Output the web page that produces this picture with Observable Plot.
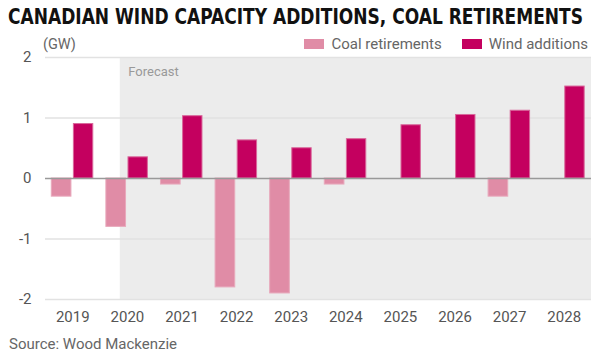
<!DOCTYPE html>
<html><head><meta charset="utf-8">
<script src="https://cdn.jsdelivr.net/npm/d3@7"></script>
<script src="https://cdn.jsdelivr.net/npm/@observablehq/plot@0.6"></script>
<style>
body{margin:0;background:#fff;width:608px;height:360px;position:relative;overflow:hidden;font-family:Roboto,"Noto Sans",sans-serif;}
#title{position:absolute;left:8px;top:4px;font-family:"DejaVu Sans Condensed","DejaVu Sans",sans-serif;font-stretch:condensed;font-weight:bold;font-size:22px;line-height:26px;color:#111;white-space:nowrap;transform-origin:0 0;}
#unit{position:absolute;left:43px;top:36px;font-size:14.5px;color:#666;}
#legend{position:absolute;left:312px;top:35px;font-size:15px;color:#666;display:flex;align-items:center;white-space:nowrap;}
#legend .item{display:flex;align-items:center;}
#legend span.sw{display:inline-block;width:20px;height:10px;margin-right:7px;}
#source{position:absolute;left:9px;top:335px;font-size:15px;color:#666;}
#chart{position:absolute;left:0;top:0;}
</style></head>
<body>
<div id="chart"></div>
<div id="title">CANADIAN WIND CAPACITY ADDITIONS, COAL RETIREMENTS</div>
<div id="unit">(GW)</div>
<div id="legend"><div class="item" id="lg1"><span class="sw" style="background:#e08ca6"></span>Coal retirements</div><div class="item" id="lg2" style="margin-left:20px"><span class="sw" style="background:#c4005f"></span>Wind additions</div></div>
<div id="source">Source: Wood Mackenzie</div>
<script>
const years = [2019,2020,2021,2022,2023,2024,2025,2026,2027,2028];
const coal = [-0.30,-0.80,-0.10,-1.80,-1.90,-0.10,0,0,-0.30,0];
const wind = [0.90,0.35,1.03,0.63,0.50,0.65,0.88,1.05,1.12,1.52];
const yTicks = [-2,-1,0,1,2];
const forecastStart = 2019.87;

const coalRows = years.map((y,i)=>({year:y, v:coal[i]})).filter(d=>d.v!==0);
const windRows = years.map((y,i)=>({year:y, v:wind[i]}));

const plot = Plot.plot({
  width:608, height:330,
  marginTop:57, marginBottom:31, marginLeft:45, marginRight:17,
  style:{fontFamily:"Roboto, 'Noto Sans', sans-serif", fontSize:"14px", color:"#666", background:"transparent"},
  x:{domain:[2018.5,2028.5], axis:null, label:null},
  y:{domain:[-2,2], axis:null, label:null},
  marks:[
    Plot.rect([{x1:forecastStart,x2:2028.5}],{x1:"x1",x2:"x2",y1:-2,y2:2,fill:"#ececec"}),
    Plot.text(["Forecast"],{x:forecastStart,y:2,text:d=>d,dx:8,dy:14,textAnchor:"start",fill:"#999",fontSize:13}),
    Plot.ruleY(yTicks.filter(t=>t!==0),{stroke:"#e2e2e2",strokeWidth:1.5}),
    Plot.rect(coalRows,{x1:d=>d.year-0.385,x2:d=>d.year-0.025,y1:0,y2:"v",fill:"#e08ca6",stroke:"#e8a9bc",strokeWidth:1}),
    Plot.rect(windRows,{x1:d=>d.year+0.02,x2:d=>d.year+0.375,y1:0,y2:"v",fill:"#c4005f",stroke:"#d9689b",strokeWidth:1}),
    Plot.ruleY([0],{stroke:"#999",strokeWidth:1.5}),
    Plot.axisY(yTicks,{tickSize:0,tickPadding:14,label:null,tickFormat:d=>String(d),fontSize:15,fill:"#555"}),
    Plot.axisX(years,{tickSize:0,tickPadding:12,label:null,tickFormat:d=>String(d),fontSize:15,fill:"#555"})
  ]
});
document.getElementById("chart").appendChild(plot);
// fit title to the reference width
const t = document.getElementById("title");
const w = t.getBoundingClientRect().width;
t.style.transform = `scaleX(${575 / w})`;
// fit legend so its right end lands at x=588
const lg = document.getElementById("legend");
const lw = lg.getBoundingClientRect().width;
lg.style.left = (588 - lw) + "px";
</script>
</body></html>
